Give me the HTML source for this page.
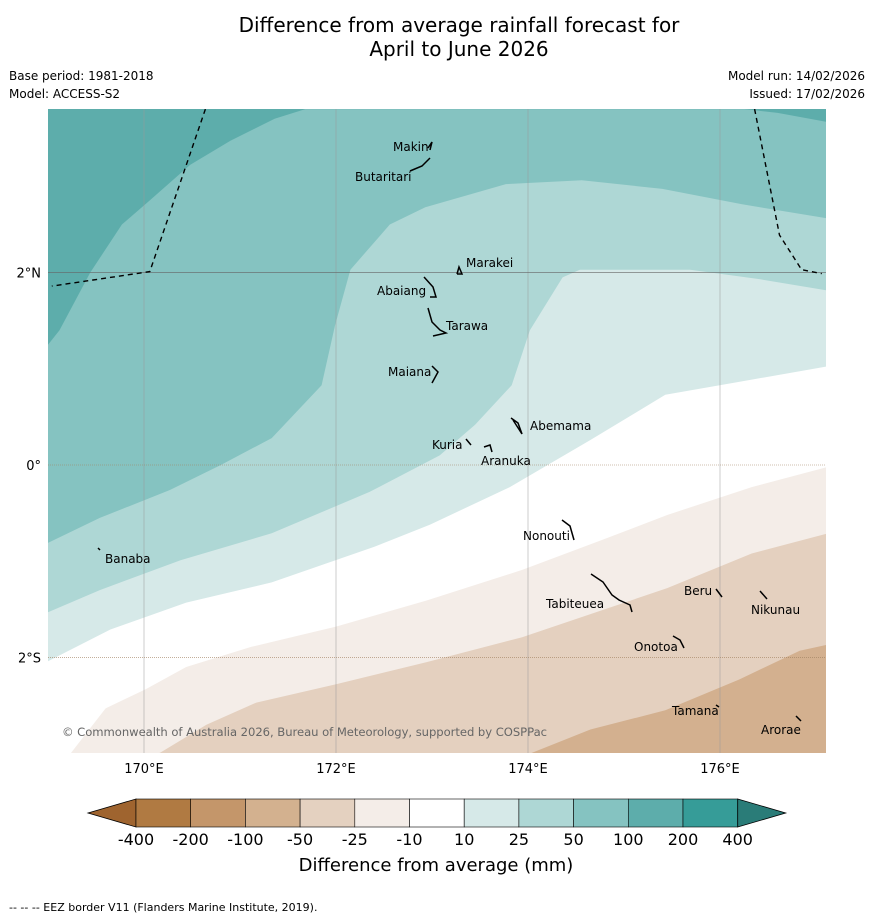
<!DOCTYPE html>
<html><head><meta charset="utf-8"><style>
body{margin:0;background:#fff;font-family:"Liberation Sans",sans-serif}
svg{display:block}
text{font-family:"DejaVu Sans","Liberation Sans",sans-serif}
</style></head><body>
<svg id="c" width="873" height="919" viewBox="0 0 873 919">
<text x="459" y="32" font-size="20" text-anchor="middle">Difference from average rainfall forecast for</text>
<text x="459" y="56" font-size="20" text-anchor="middle">April to June 2026</text>
<text x="9" y="80" font-size="12">Base period: 1981-2018</text>
<text x="9" y="98" font-size="12">Model: ACCESS-S2</text>
<text x="865" y="80" font-size="12" text-anchor="end">Model run: 14/02/2026</text>
<text x="865" y="98" font-size="12" text-anchor="end">Issued: 17/02/2026</text>
<defs><clipPath id="mc"><rect x="48" y="109" width="778" height="644"/></clipPath></defs>
<g id="map" clip-path="url(#mc)"></g>
<g id="cb"></g>
<text x="436" y="871" font-size="18" text-anchor="middle">Difference from average (mm)</text>
<text x="9" y="911" font-size="11">--  --  -- EEZ border V11 (Flanders Marine Institute, 2019).</text>
</svg>
<script>
const NS="http://www.w3.org/2000/svg";
const lonTicks=[170,172,174,176];
const latTicks=[2,0,-2];
const latLabels=["2°N","0°","2°S"];
const lonLabels=["170°E","172°E","174°E","176°E"];
function X(lon){return 144+(lon-170)*96;}
function Y(lat){return 465-lat*96.2;}
const bandColors=["#5dadab","#85c3c1","#aed7d5","#d6e9e8","#ffffff","#f4ede8","#e4d0bf","#d3b08f"];
const b200=[[169,1.25],[169.12,1.4],[169.44,2.0],[169.77,2.5],[170.06,2.75],[170.48,3.12],[170.9,3.37],[171.36,3.6],[171.68,3.7],[177.2,3.7]];
const b100=[[169,-0.81],[169.54,-0.55],[170.27,-0.26],[170.8,0],[171.33,0.28],[171.85,0.83],[171.99,1.45],[172.15,2.03],[172.56,2.5],[172.93,2.68],[173.77,2.92],[174.56,2.96],[175.4,2.87],[176.23,2.71],[177.2,2.55]];
const b50=[[169,-1.53],[169.54,-1.3],[170.38,-0.99],[171.33,-0.71],[172.35,-0.28],[173.08,0.1],[173.45,0.42],[173.83,0.83],[174.02,1.4],[174.36,1.95],[174.54,2.03],[175.69,2.03],[176.42,1.93],[177.2,1.8]];
const b25=[[169,-2.04],[169.65,-1.71],[170.44,-1.43],[171.33,-1.22],[172.4,-0.85],[172.98,-0.62],[173.81,-0.23],[174.65,0.26],[175.43,0.73],[177.2,1.04]];
const bm10=[[169,-3.3],[169.6,-2.53],[170.02,-2.33],[170.44,-2.1],[171.12,-1.89],[172.0,-1.68],[172.94,-1.41],[173.94,-1.09],[174.77,-0.78],[175.45,-0.52],[176.33,-0.23],[177.2,0.0]];
const bm25=[[170.17,-2.99],[170.65,-2.7],[171.17,-2.47],[172.0,-2.28],[172.94,-2.05],[173.94,-1.79],[174.77,-1.51],[175.45,-1.28],[176.33,-0.92],[177.2,-0.69]];
const bm50=[[173.77,-3.1],[174.65,-2.75],[175.43,-2.55],[176.2,-2.23],[176.83,-1.93],[177.2,-1.85]];
const bounds=[b200,b100,b50,b25,bm10,bm25,bm50];
const map=document.getElementById('map');
function el(tag,attrs,parent){const e=document.createElementNS(NS,tag);for(const k in attrs)e.setAttribute(k,attrs[k]);(parent||map).appendChild(e);return e;}
function pts(a){return a.map(p=>X(p[0]).toFixed(1)+","+Y(p[1]).toFixed(1)).join(" ");}
const bg=el('rect',{x:48,y:109,width:778,height:644,fill:bandColors[0]});


const bandNames=["band-50-100","band-25-50","band-10-25","band-neutral","band-minus10-25","band-minus25-50","band-minus50-100"];
for(let i=0;i<bounds.length;i++){
  const b=bounds[i];
  const d="M"+pts(b)+" L"+X(177.3)+","+Y(-3.5)+" L"+X(168.9)+","+Y(-3.5)+" Z";
  const p=el('path',{d:d,fill:bandColors[i+1]});
  
  
}
const tr=el('polygon',{points:pts([[176.0,3.8],[177.2,3.8],[177.2,3.55],[176.6,3.66],[176.0,3.73]]),fill:bandColors[0]});


lonTicks.forEach((l,i)=>{const g=el('line',{x1:X(l),x2:X(l),y1:109,y2:753,stroke:"#999",'stroke-width':0.5});

});
latTicks.forEach((l,i)=>{const g=el('line',{x1:48,x2:826,y1:Y(l),y2:Y(l),stroke:i==0?"#666":"#a08060",'stroke-width':0.6,'stroke-dasharray':i==0?"":"1,1"});

});
const eezL=[[170.64,3.7],[170.06,2.01],[169.04,1.86]];
const eezR=[[176.36,3.7],[176.62,2.39],[176.85,2.03],[177.06,1.99]];
[eezL,eezR].forEach(a=>{const e=el('polyline',{points:pts(a),fill:"none",stroke:"#000",'stroke-width':1.4,'stroke-dasharray':"5,4"});

});
const islands=[
["Makin",393,151,[[428,148],[432,142],[430,150]]],
["Butaritari",355,181,[[410,171],[422,166],[430,158]]],
["Marakei",466,267,[[457,274],[459,267],[462,274],[457,274]]],
["Abaiang",377,295,[[424,277],[433,287],[436,297],[430,297]]],
["Tarawa",446,330,[[428,308],[432,322],[440,330],[446,333],[433,336]]],
["Maiana",388,376,[[432,366],[438,372],[432,383]]],
["Abemama",530,430,[[511,418],[518,423],[522,434],[513,420]]],
["Kuria",432,449,[[466,439],[471,445]]],
["Aranuka",481,465,[[484,447],[490,445],[492,452]]],
["Nonouti",523,540,[[562,520],[570,526],[574,540]]],
["Tabiteuea",546,608,[[591,574],[603,582],[612,595],[619,600],[630,605],[632,612]]],
["Beru",684,595,[[716,589],[722,597]]],
["Nikunau",751,614,[[760,591],[767,599]]],
["Onotoa",634,651,[[673,636],[680,640],[684,648]]],
["Tamana",672,715,[[716,705],[719,707]]],
["Arorae",761,734,[[796,716],[801,721]]],
["Banaba",105,563,[[98,548],[100,550]]]];
islands.forEach(s=>{
  const p=el('polyline',{points:s[3].map(q=>q.join(",")).join(" "),fill:"none",stroke:"#000",'stroke-width':1.5});
  
  
  const t=el('text',{x:s[1],y:s[2],'font-size':12,fill:"#000"});t.textContent=s[0];
  
  
});
const cp=el('text',{x:62,y:736,'font-size':11.6,fill:"#666",textLength:485});cp.textContent="© Commonwealth of Australia 2026, Bureau of Meteorology, supported by COSPPac";


const svg=document.getElementById('c');
lonTicks.forEach((l,i)=>{const t=el('text',{x:X(l),y:773,'font-size':13,'text-anchor':'middle'},svg);t.textContent=lonLabels[i];

});
latTicks.forEach((l,i)=>{const t=el('text',{x:41,y:Y(l)+5,'font-size':13,'text-anchor':'end'},svg);t.textContent=latLabels[i];

});
const cbLevels=["-400","-200","-100","-50","-25","-10","10","25","50","100","200","400"];
const cbColors=["#b07a42","#c4966a","#d3b18f","#e4d1c0","#f4ede8","#ffffff","#d6e9e8","#aed7d5","#85c3c1","#5dadab","#369c98"];
const cb=document.getElementById('cb');
const cx0=136,cw=54.7,cy=799,ch=28;
el('polygon',{points:`88,813 ${cx0},${cy} ${cx0},${cy+ch}`,fill:"#9f642f",stroke:"#000",'stroke-width':0.8},cb);
cbColors.forEach((c,i)=>{const r=el('rect',{x:cx0+i*cw,y:cy,width:cw,height:ch,fill:c,stroke:"#000",'stroke-width':0.6},cb);

});
const xe=cx0+cbColors.length*cw;
el('polygon',{points:`${xe},${cy} ${xe+48},813 ${xe},${cy+ch}`,fill:"#2a7c78",stroke:"#000",'stroke-width':0.8},cb);
cbLevels.forEach((v,i)=>{const t=el('text',{x:cx0+i*cw,y:845,'font-size':16,'text-anchor':'middle'},cb);t.textContent=v;

});
</script>
</body></html>
